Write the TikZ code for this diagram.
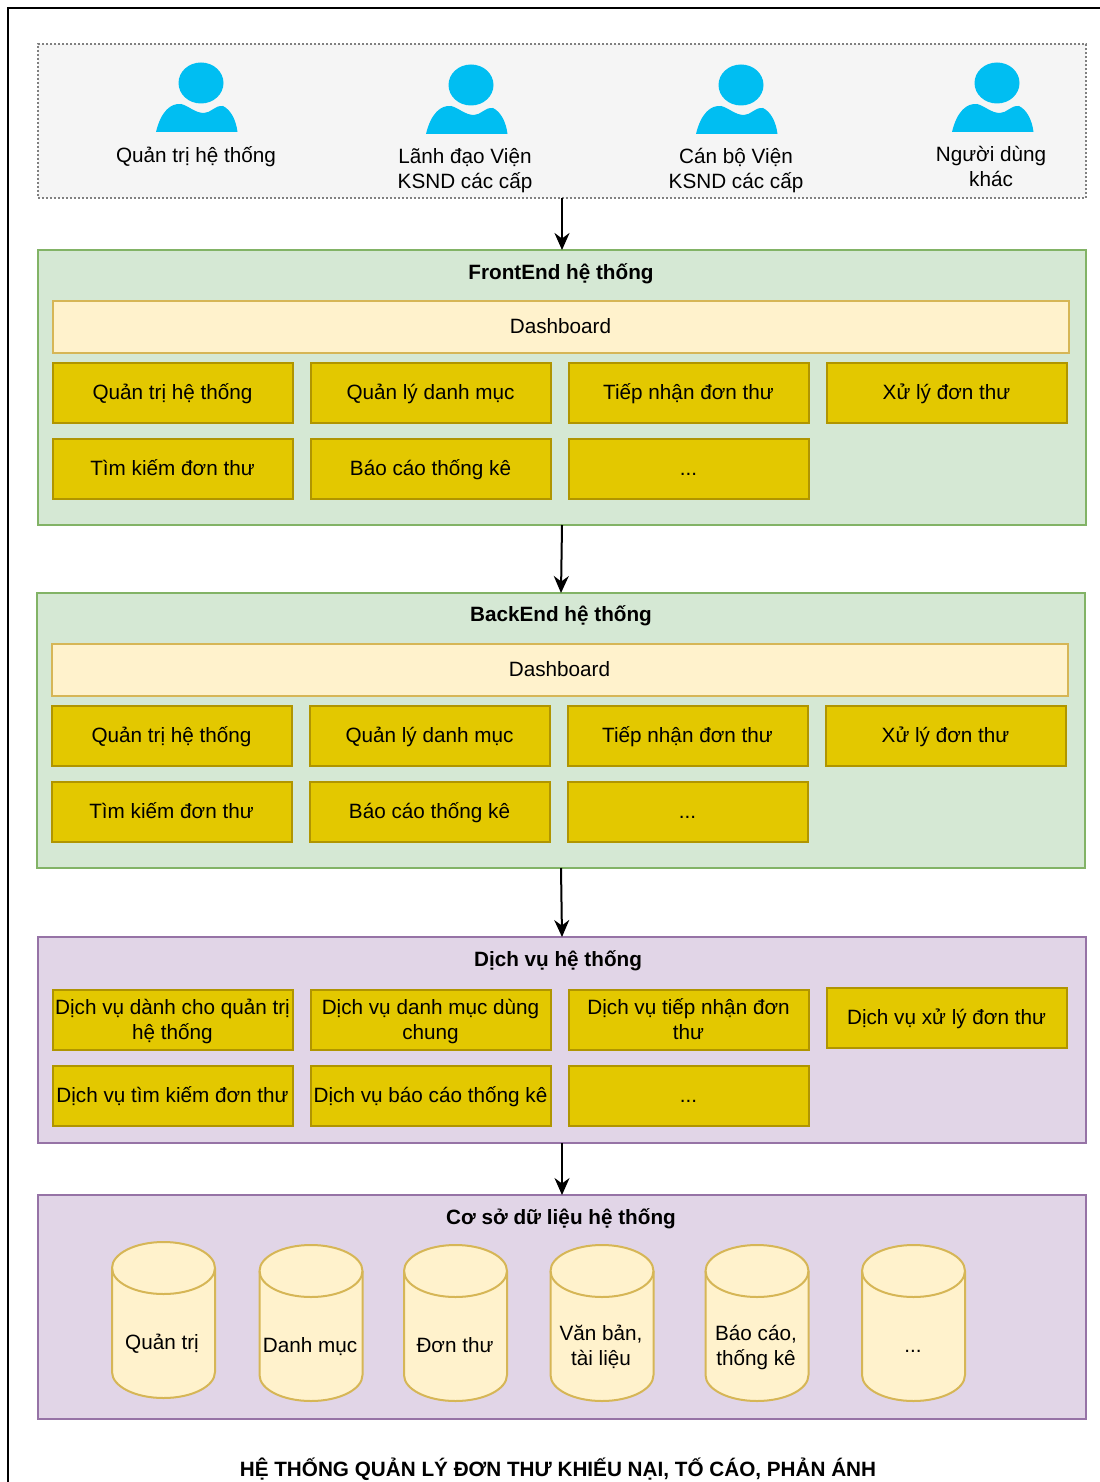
\documentclass[tikz,border=0pt]{standalone}
\usepackage{fontspec}
\setmainfont{Liberation Sans}
\usetikzlibrary{arrows.meta}
\definecolor{usergray}{HTML}{F5F5F5}
\definecolor{userblue}{HTML}{00BEF2}
\definecolor{greenfill}{HTML}{D5E8D4}
\definecolor{greenline}{HTML}{82B366}
\definecolor{purplefill}{HTML}{E1D5E7}
\definecolor{purpleline}{HTML}{9673A6}
\definecolor{creamfill}{HTML}{FFF2CC}
\definecolor{creamline}{HTML}{D6B656}
\definecolor{modfill}{HTML}{E3C800}
\definecolor{modline}{HTML}{B09500}
\newcommand{\labelfont}{\fontsize{10.35}{12.5}\selectfont}
\newcommand{\twolines}[2]{\rule{0pt}{10.5pt}#1\\#2\rule[-3.5pt]{0pt}{3.5pt}}
\tikzset{
  layer/.style={draw,line width=1pt,minimum width=524pt,anchor=north west,inner sep=0pt,outer sep=0pt},
  frontlayer/.style={layer,fill=greenfill,draw=greenline},
  servlayer/.style={layer,fill=purplefill,draw=purpleline},
  oneline/.style={text height=9.6pt,text depth=2.4pt},
  layertitle/.style={font=\labelfont\bfseries,inner sep=0pt,oneline},
  dashbox/.style={draw=creamline,fill=creamfill,line width=1pt,minimum width=508pt,minimum height=26pt,inner sep=0pt,oneline},
  modbox/.style={draw=modline,fill=modfill,line width=1pt,minimum width=120pt,minimum height=30pt,inner sep=0pt,align=center},
  modone/.style={modbox,oneline},
  dbtext/.style={inner sep=0pt,align=center},
  usertext/.style={align=center,inner sep=0pt},
  flow/.style={-{Stealth[length=8.5pt,width=7.5pt]},line width=1pt},
  usericon/.pic={
    \fill[userblue] (0,0) ellipse (22.5 and 20.5);
    \fill[userblue] (-45,49) .. controls (-40,28) and (-30,20) .. (-20,21)
      .. controls (-12,23) and (-6,30) .. (3,30) .. controls (10,30) and (14,22) .. (22,23)
      .. controls (30,27) and (35,37) .. (36.5,49) -- cycle;
  },
  dbdrum/.pic={
    \draw[draw=creamline,fill=creamfill,line width=1pt] (-51.5,-52)
      arc[start angle=180,end angle=360,x radius=51.5,y radius=26] -- (51.5,52)
      arc[start angle=0,end angle=180,x radius=51.5,y radius=26] -- cycle;
    \draw[draw=creamline,line width=1pt] (-51.5,-52)
      arc[start angle=180,end angle=0,x radius=51.5,y radius=26];
  },
}
\begin{document}
\begin{tikzpicture}[x=0.5pt,y=-0.5pt,font=\labelfont]
    \useasboundingbox (0,0) rectangle (1099,1482);
    \draw[line width=0.9pt] (8,1490) -- (8,8) -- (1110,8);

    % users
    \node[layer,fill=usergray,draw=gray,densely dotted,minimum height=77pt] (users) at (38,44) {};
    \pic at (201,83) {usericon};
    \pic at (471,85) {usericon};
    \pic at (741,85) {usericon};
    \pic at (997,83) {usericon};
    \node[usertext,oneline] (useradmin) at (196,155) {Quản trị hệ thống};
    \node[usertext] (userlead) at (465,169) {\twolines{Lãnh đạo Viện}{KSND các cấp}};
    \node[usertext] (userstaff) at (736,169) {\twolines{Cán bộ Viện}{KSND các cấp}};
    \node[usertext] (userother) at (991,167) {\twolines{Người dùng}{khác}};

    % frontend
    \node[frontlayer,minimum height=137.5pt] (front) at (38,250) {};
    \node[layertitle] (fronttitle) at (561,272) {FrontEnd hệ thống};
    \node[dashbox] (frontdash) at (560.5,326.5) {Dashboard};
    \node[modone] (fa) at (172.5,392.5) {Quản trị hệ thống};
    \node[modone] (fb) at (430.5,392.5) {Quản lý danh mục};
    \node[modone] (fc) at (688.5,392.5) {Tiếp nhận đơn thư};
    \node[modone] (fd) at (946.5,392.5) {Xử lý đơn thư};
    \node[modone] (fe) at (172.5,468.5) {Tìm kiếm đơn thư};
    \node[modone] (ff) at (430.5,468.5) {Báo cáo thống kê};
    \node[modone] (fg) at (688.5,468.5) {...};

    % backend
    \node[frontlayer,minimum height=137.5pt] (back) at (37,593) {};
    \node[layertitle] (backtitle) at (561,614.5) {BackEnd hệ thống};
    \node[dashbox] (backdash) at (559.5,669.5) {Dashboard};
    \node[modone] (ba) at (171.5,735.5) {Quản trị hệ thống};
    \node[modone] (bb) at (429.5,735.5) {Quản lý danh mục};
    \node[modone] (bc) at (687.5,735.5) {Tiếp nhận đơn thư};
    \node[modone] (bd) at (945.5,735.5) {Xử lý đơn thư};
    \node[modone] (be) at (171.5,811.5) {Tìm kiếm đơn thư};
    \node[modone] (bf) at (429.5,811.5) {Báo cáo thống kê};
    \node[modone] (bg) at (687.5,811.5) {...};

    % services
    \node[servlayer,minimum height=103pt] (serv) at (38,937) {};
    \node[layertitle] (servtitle) at (558,959.5) {Dịch vụ hệ thống};
    \node[modbox] (sa) at (172.5,1019.5) {\twolines{Dịch vụ dành cho quản trị}{hệ thống}};
    \node[modbox] (sb) at (430.5,1019.5) {\twolines{Dịch vụ danh mục dùng}{chung}};
    \node[modbox] (sc) at (688.5,1019.5) {\twolines{Dịch vụ tiếp nhận đơn}{thư}};
    \node[modone] (sd) at (946.5,1017.5) {Dịch vụ xử lý đơn thư};
    \node[modone] (se) at (172.5,1095.5) {Dịch vụ tìm kiếm đơn thư};
    \node[modone] (sf) at (430.5,1095.5) {Dịch vụ báo cáo thống kê};
    \node[modone] (sg) at (688.5,1095.5) {...};

    % database
    \node[servlayer,minimum height=112pt] (data) at (38,1195) {};
    \node[layertitle] (datatitle) at (561,1217) {Cơ sở dữ liệu hệ thống};
    \pic at (163.5,1320) {dbdrum};
    \pic at (311,1323) {dbdrum};
    \pic at (455.5,1323) {dbdrum};
    \pic at (602,1323) {dbdrum};
    \pic at (757,1323) {dbdrum};
    \pic at (913.5,1323) {dbdrum};
    \node[dbtext,oneline] (dba) at (162,1342) {Quản trị};
    \node[dbtext,oneline] (dbb) at (310,1345) {Danh mục};
    \node[dbtext,oneline] (dbc) at (455,1345) {Đơn thư};
    \node[dbtext] (dbd) at (601,1345.5) {\twolines{Văn bản,}{tài liệu}};
    \node[dbtext] (dbe) at (756,1345.5) {\twolines{Báo cáo,}{thống kê}};
    \node[dbtext,oneline] (dbf) at (913,1345) {...};

    \node[layertitle] (pagetitle) at (558,1469.5) {HỆ THỐNG QUẢN LÝ ĐƠN THƯ KHIẾU NẠI, TỐ CÁO, PHẢN ÁNH};

    \draw[flow] (users.south) -- (front.north);
    \draw[flow] (front.south) -- (back.north);
    \draw[flow] (back.south) -- (serv.north);
    \draw[flow] (serv.south) -- (data.north);
\end{tikzpicture}
\end{document}
